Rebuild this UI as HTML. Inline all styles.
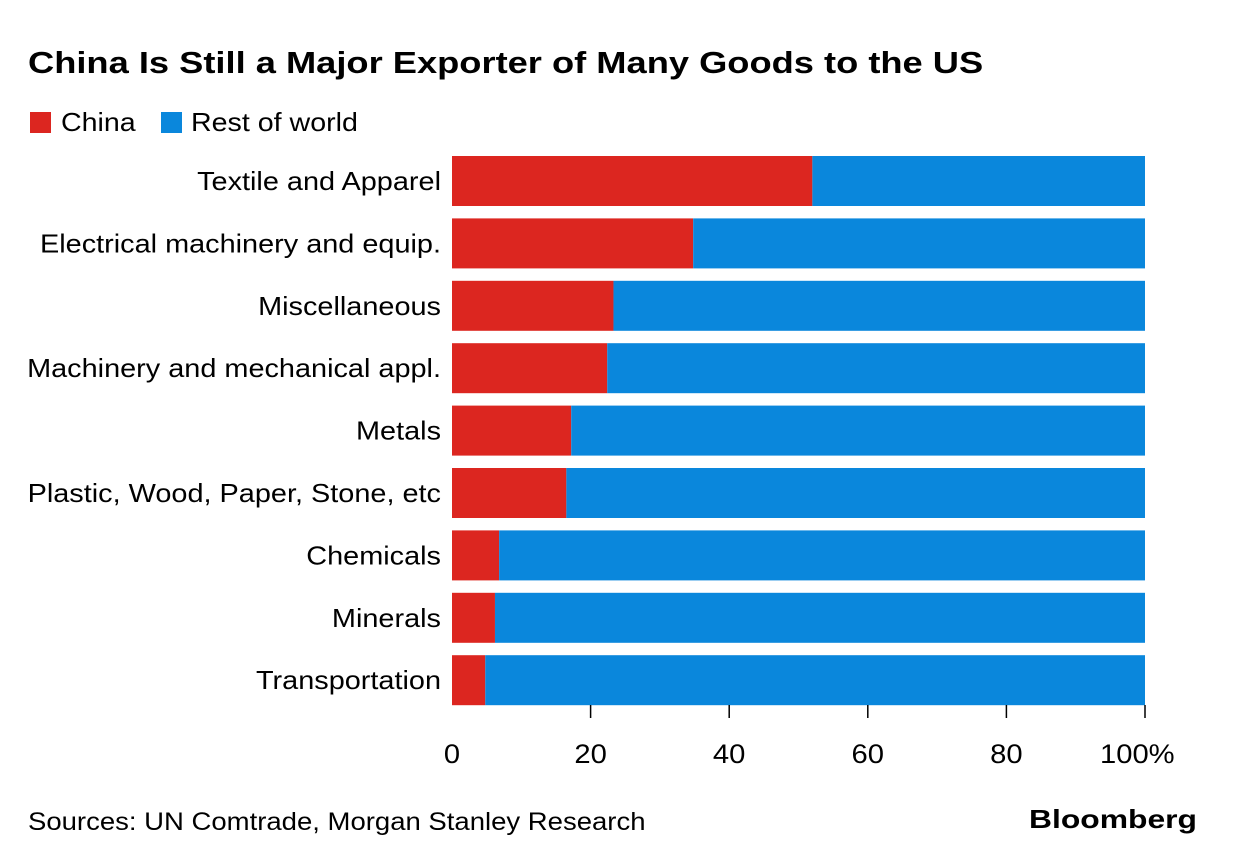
<!DOCTYPE html>
<html><head><meta charset="utf-8"><style>
body{margin:0;background:#fff;font-family:"Liberation Sans",sans-serif;}
</style></head><body>
<svg id="svg" width="1237" height="862" xmlns="http://www.w3.org/2000/svg" style="font-family:'Liberation Sans',sans-serif">
<text class="w" data-s="1.17" x="28" y="73" font-size="31" font-weight="bold" fill="#000">China Is Still a Major Exporter of Many Goods to the US</text>
<g>
<rect x="30" y="112" width="21" height="21" fill="#dc2620"/>
<text class="w" data-s="1.1" x="61" y="131" font-size="26">China</text>
<rect x="161" y="112" width="21" height="21" fill="#0a87dc"/>
<text class="w" data-s="1.1" x="191" y="131" font-size="26">Rest of world</text>
</g>
<g id="bars"></g>
<g id="axis"></g>
<text class="w" data-s="1.1" x="28" y="830" font-size="25">Sources: UN Comtrade, Morgan Stanley Research</text>
<text x="1197" y="828" font-size="26" font-weight="bold" text-anchor="end" textLength="168" lengthAdjust="spacingAndGlyphs">Bloomberg</text>
</svg>
<script>
const categories=["Textile and Apparel","Electrical machinery and equip.","Miscellaneous","Machinery and mechanical appl.","Metals","Plastic, Wood, Paper, Stone, etc","Chemicals","Minerals","Transportation"];
const chinaValues=[52.0,34.8,23.3,22.4,17.2,16.5,6.8,6.2,4.8];
const restValues=[48.0,65.2,76.7,77.6,82.8,83.5,93.2,93.8,95.2];
const tickValues=[0,20,40,60,80,100];
const tickLabels=["0","20","40","60","80","100%"];
const NS="http://www.w3.org/2000/svg";
const x0=452,x1=1145,top0=156,pitch=62.4,bh=50;
const xs=v=>x0+(x1-x0)*v/100;
const ys=i=>top0+i*pitch;
const bars=document.getElementById('bars');
function mk(t,a,p){const e=document.createElementNS(NS,t);for(const k in a)e.setAttribute(k,a[k]);p.appendChild(e);return e;}
categories.forEach((c,i)=>{
 const r1=mk('rect',{x:xs(0),y:ys(i),width:xs(chinaValues[i])-xs(0),height:bh,fill:'#dc2620'},bars);
 
 
 const r2=mk('rect',{x:xs(chinaValues[i]),y:ys(i),width:xs(chinaValues[i]+restValues[i])-xs(chinaValues[i]),height:bh,fill:'#0a87dc'},bars);
 
 
 const t=mk('text',{x:441,y:ys(i)+bh/2+9,'font-size':26,'text-anchor':'end',fill:'#000','class':'w','data-s':'1.11'},bars);
 t.textContent=c;
 
 
});
const ax=document.getElementById('axis');
tickValues.forEach((v,i)=>{
 if(v>0){const l=mk('line',{x1:xs(v),x2:xs(v),y1:705,y2:718,stroke:'#000','stroke-width':1.5},ax);
 
 }
 const t=mk('text',{x:xs(v),y:763,'font-size':27,'text-anchor':'middle','class':'w','data-s':'1.08'},ax);
 if(v===100){t.setAttribute('x',xs(v)-45);t.setAttribute('text-anchor','start');}
 t.textContent=tickLabels[i];
 
 
});
document.querySelectorAll('text.w').forEach(t=>{
 const w=t.getComputedTextLength()*parseFloat(t.getAttribute('data-s'));
 t.setAttribute('textLength',w.toFixed(1));
 t.setAttribute('lengthAdjust','spacingAndGlyphs');
});
</script>
</body></html>
